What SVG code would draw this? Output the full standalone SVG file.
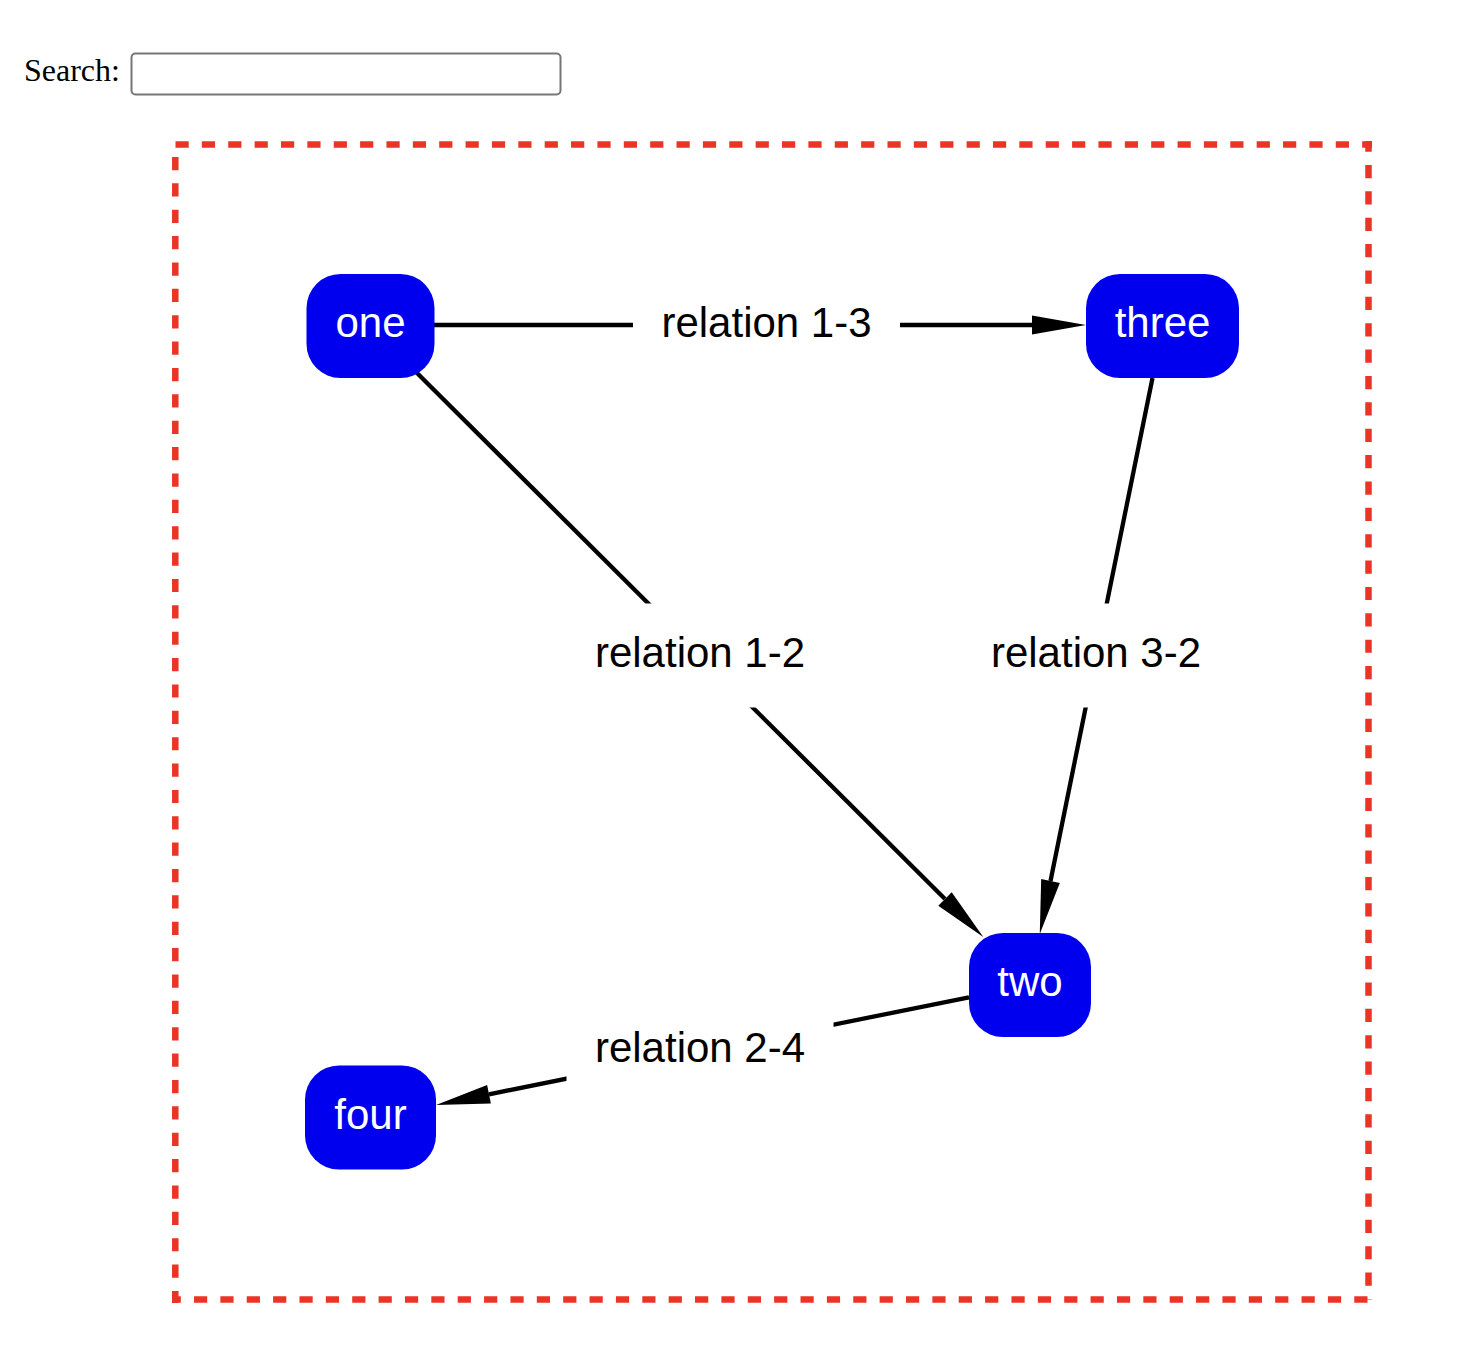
<svg xmlns="http://www.w3.org/2000/svg" width="1476" height="1362" viewBox="0 0 1476 1362">
<style>
.node rect{fill:#0000ee}
.node text{fill:#fff;font-family:"Liberation Sans",Arial,sans-serif;font-size:42px;text-anchor:middle}
.edge line{stroke:#000;stroke-width:4.3;fill:none}
.lbg{fill:#fff}
.lbl{fill:#000;font-family:"Liberation Sans",Arial,sans-serif;font-size:42px;text-anchor:middle}
.frame{stroke:#ec3426;stroke-width:6.5;stroke-dasharray:13.2 13.17;fill:none}
</style>
<defs>
<marker id="arr" markerUnits="userSpaceOnUse" markerWidth="56" markerHeight="20" refX="0" refY="9.5" orient="auto" overflow="visible">
<path d="M0,0 L54,9.5 L0,19 z" fill="#000"/>
</marker>
</defs>
<rect width="1476" height="1362" fill="#fff"/>
<g id="search">
<text x="24" y="81" font-family="'Liberation Serif','Times New Roman',serif" font-size="32" fill="#000">Search:</text>
<rect x="131.5" y="53.5" width="429" height="41" rx="4" fill="#fff" stroke="#767676" stroke-width="2"/>
</g>
<g id="frame">
<line class="frame" x1="175.5" y1="144.5" x2="1372" y2="144.5"/>
<line class="frame" x1="1368.5" y1="141" x2="1368.5" y2="1299.5" stroke-dashoffset="2.37"/>
<line class="frame" x1="172" y1="1299.5" x2="1368" y2="1299.5" stroke-dashoffset="4.37"/>
<line class="frame" x1="175.3" y1="144" x2="175.3" y2="1303" stroke-dashoffset="13.37"/>
</g>
<g id="connectors">
<g class="edge" id="e13">
<line x1="434" y1="325" x2="1032" y2="325" marker-end="url(#arr)"/>
<rect class="lbg" x="633" y="273" width="267" height="104"/>
<text class="lbl" x="766.5" y="337">relation 1-3</text>
</g>
<g class="edge" id="e12">
<line x1="416" y1="372" x2="945" y2="899" marker-end="url(#arr)"/>
<rect class="lbg" x="566.5" y="603.5" width="267" height="104"/>
<text class="lbl" x="700" y="667">relation 1-2</text>
</g>
<g class="edge" id="e32">
<line x1="1152.5" y1="378" x2="1050.5" y2="881" marker-end="url(#arr)"/>
<rect class="lbg" x="962.5" y="603.5" width="267" height="104"/>
<text class="lbl" x="1096" y="667">relation 3-2</text>
</g>
<g class="edge" id="e24">
<line x1="969" y1="997.3" x2="489" y2="1094.3" marker-end="url(#arr)"/>
<rect class="lbg" x="566.5" y="999" width="267" height="104"/>
<text class="lbl" x="700" y="1062">relation 2-4</text>
</g>
</g>
<g class="node" id="one">
<rect x="306.5" y="274" width="128" height="104" rx="34"/>
<text x="370.5" y="337">one</text>
</g>
<g class="node" id="three">
<rect x="1086" y="274" width="153" height="104" rx="34"/>
<text x="1162.5" y="337">three</text>
</g>
<g class="node" id="two">
<rect x="969" y="933" width="122" height="104" rx="34"/>
<text x="1030" y="996">two</text>
</g>
<g class="node" id="four">
<rect x="305" y="1065.5" width="131" height="104" rx="34"/>
<text x="370.5" y="1128.5">four</text>
</g>
</svg>
